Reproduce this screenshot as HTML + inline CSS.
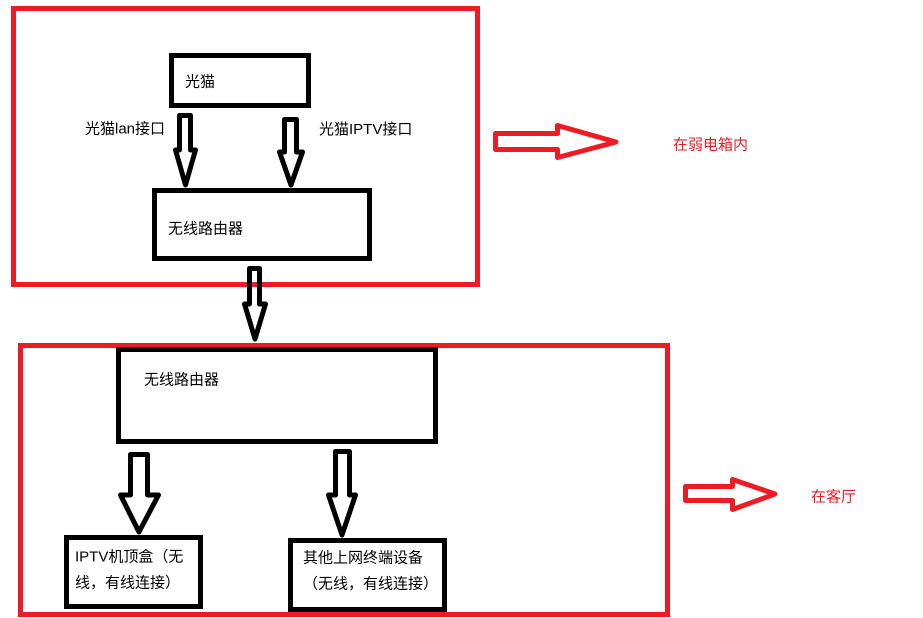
<!DOCTYPE html>
<html><head><meta charset="utf-8"><style>
html,body{margin:0;padding:0;background:#fff;}
svg{display:block;}
text{font-family:"Liberation Sans","Noto Sans CJK SC",sans-serif;font-size:15px;fill:#000;}
</style></head><body>
<svg width="923" height="618" viewBox="0 0 923 618" xmlns="http://www.w3.org/2000/svg">
<rect x="0" y="0" width="923" height="618" fill="#fff"/>
<!-- red containers -->
<rect x="13.5" y="8.5" width="464" height="276" fill="none" stroke="#ed1c24" stroke-width="5"/>
<rect x="20.5" y="345.5" width="647" height="269" fill="none" stroke="#ed1c24" stroke-width="5"/>
<!-- black boxes -->
<g fill="none" stroke="#000" stroke-width="5">
<rect x="171.5" y="55.5" width="137" height="50"/>
<rect x="154.5" y="190.5" width="215" height="68"/>
<rect x="118.5" y="349.5" width="317" height="92"/>
<rect x="66.5" y="537.5" width="134" height="69"/>
<rect x="290.5" y="540.5" width="154" height="69"/>
</g>
<!-- black hollow arrows -->
<g fill="none" stroke="#000" stroke-width="5" stroke-linejoin="round">
<polygon points="179.5,115.5 190.5,115.5 190.5,150 195.5,150 185.5,185 175.5,150 179.5,150"/>
<polygon points="284.5,119.5 296.5,119.5 296.5,152 302.5,152 291,185 279.5,152 284.5,152"/>
<polygon points="249.5,268.5 259.5,268.5 259.5,304 265.5,304 255,339 244.5,304 249.5,304"/>
<polygon points="130.5,454.5 147.5,454.5 147.5,495 158.5,495 139,532 120.5,495 130.5,495"/>
<polygon points="335.5,451.5 349.5,451.5 349.5,495 355.5,495 342,535 328.5,495 335.5,495"/>
</g>
<!-- red hollow arrows -->
<g fill="none" stroke="#ed1c24" stroke-width="5" stroke-linejoin="round">
<polygon points="495.5,133.5 557.5,133.5 557.5,125.5 616,142 557.5,157.5 557.5,149.5 495.5,149.5"/>
<polygon points="685.5,486.5 732.5,486.5 732.5,479.5 775,494 732.5,509.5 732.5,500.5 685.5,500.5"/>
</g>
<!-- labels -->
<text x="185" y="86.5">光猫</text>
<text x="85" y="133.5">光猫lan接口</text>
<text x="319" y="134">光猫IPTV接口</text>
<text x="168" y="233.5">无线路由器</text>
<text x="144" y="384.5">无线路由器</text>
<text x="75" y="561.5">IPTV机顶盒（无</text>
<text x="75" y="587.5">线，有线连接）</text>
<text x="303" y="562.5">其他上网终端设备</text>
<text x="303" y="588.5">（无线，有线连接）</text>
<text x="673" y="149.5" style="fill:#ed1c24">在弱电箱内</text>
<text x="811" y="501.5" style="fill:#ed1c24">在客厅</text>
</svg>
</body></html>
